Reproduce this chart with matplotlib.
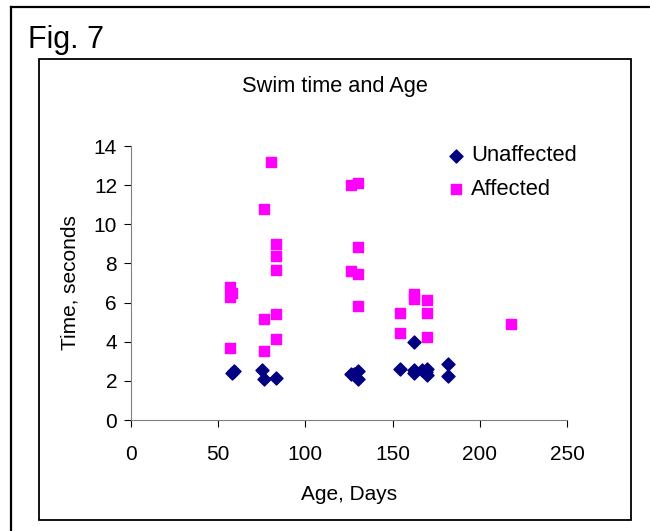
import matplotlib
matplotlib.use("Agg")
import matplotlib.pyplot as plt
from matplotlib.lines import Line2D
from matplotlib.patches import Rectangle

plt.rcParams['font.family'] = ['Liberation Sans', 'DejaVu Sans']

# data
unaff_age = [58, 59, 75, 76, 83, 126, 128, 130, 130, 154, 162, 162, 162, 167, 170, 170, 169, 182, 182]
unaff_time = [2.4, 2.5, 2.55, 2.1, 2.15, 2.35, 2.35, 2.5, 2.1, 2.6, 4.0, 2.55, 2.4, 2.55, 2.6, 2.3, 2.45, 2.85, 2.25]

aff_age = [80, 76, 83, 83, 83, 57, 58, 57, 76, 83, 83, 57, 76,
           126, 130, 130, 126, 130, 130,
           162, 162, 170, 154, 170, 154, 170, 218]
aff_time = [13.2, 10.8, 9.0, 8.4, 7.65, 6.8, 6.5, 6.3, 5.15, 5.4, 4.15, 3.7, 3.55,
            12.0, 12.1, 8.85, 7.6, 7.45, 5.8,
            6.45, 6.2, 6.15, 5.45, 5.45, 4.45, 4.25, 4.9]

fig = plt.figure(figsize=(6.5, 5.31), dpi=100)
W, H = 650, 531

# outer frame (left + top) and inner chart box
fig.add_artist(Line2D([11 / W, 11 / W], [0, 1 - 6.5 / H], color='black', lw=1.6))
fig.add_artist(Line2D([11 / W, 1], [1 - 6.5 / H, 1 - 6.5 / H], color='black', lw=1.6))
fig.add_artist(Rectangle((39 / W, 1 - 520 / H), (631 - 39) / W, (520 - 59) / H,
                         fill=False, edgecolor='black', lw=1.3))

fig.text(28 / W, 1 - 48 / H, 'Fig. 7', fontsize=22, ha='left', va='baseline')
fig.text(335 / W, 1 - 87 / H, 'Swim time and Age', fontsize=15.7, ha='center', va='center')

ax = fig.add_axes([131 / W, 1 - 420 / H, 436 / W, 274 / H])
ax.scatter(unaff_age, unaff_time, marker='D', s=44, color='#000080', label='Unaffected', zorder=3)
ax.scatter(aff_age, aff_time, marker='s', s=62, color='#FF00FF', label='Affected', zorder=2)

ax.set_xlim(0, 250)
ax.set_ylim(0, 14)
ax.set_xticks([0, 50, 100, 150, 200, 250])
ax.set_yticks(range(0, 15, 2))
for s in ['top', 'right']:
    ax.spines[s].set_visible(False)
for s in ['left', 'bottom']:
    ax.spines[s].set_color('#808080')
ax.tick_params(direction='out', length=5, color='black', labelsize=15)
ax.tick_params(axis='x', pad=13)
ax.tick_params(axis='y', pad=5)
ax.set_xlabel('Age, Days', fontsize=15, labelpad=15)
ax.set_ylabel('Time, seconds', fontsize=15, labelpad=10)

ax.legend(loc='upper left', bbox_to_anchor=(0.70, 1.034), frameon=False, fontsize=15.8,
          handletextpad=0.2, borderaxespad=0, labelspacing=0.58, handlelength=1.0)

fig.savefig('out.png', dpi=100)
